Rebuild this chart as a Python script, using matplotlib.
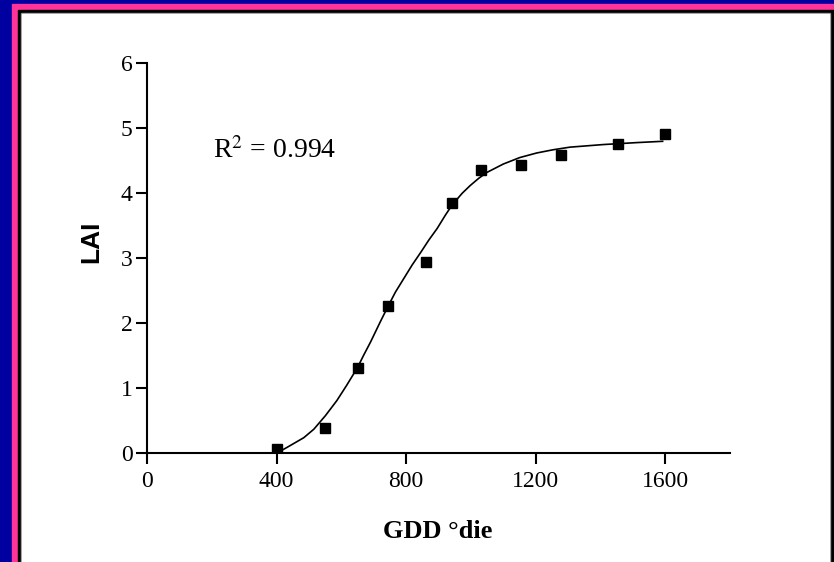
import matplotlib
matplotlib.use('Agg')
import matplotlib.pyplot as plt
from matplotlib.patches import Rectangle

# measured LAI values
gdd = [400, 551, 650, 743, 861, 942, 1031, 1155, 1279, 1453, 1599]
lai = [0.07, 0.39, 1.32, 2.27, 2.95, 3.85, 4.36, 4.43, 4.59, 4.76, 4.92]

# fitted curve
fit_gdd = [400, 432, 484, 515, 551, 586, 617, 650, 669, 690, 720, 743, 767,
           793, 819, 845, 870, 896, 922, 942, 973, 998, 1024, 1049, 1100,
           1151, 1203, 1254, 1306, 1409, 1512, 1592]
fit_lai = [0.0, 0.09, 0.24, 0.37, 0.58, 0.81, 1.05, 1.32, 1.51, 1.71, 2.02,
           2.25, 2.48, 2.69, 2.90, 3.09, 3.28, 3.46, 3.67, 3.82, 4.00, 4.12,
           4.23, 4.32, 4.45, 4.55, 4.62, 4.67, 4.71, 4.75, 4.78, 4.80]

xticks = [0, 400, 800, 1200, 1600]
yticks = [0, 1, 2, 3, 4, 5, 6]

W, H = 834, 562
fig = plt.figure(figsize=(W / 100, H / 100), dpi=100, facecolor='#0000a0')


def frame_rect(x0, y0, x1, y1, color):
    # pixel box, origin top-left
    fig.patches.append(Rectangle((x0 / W, 1 - y1 / H), (x1 - x0) / W, (y1 - y0) / H,
                                 transform=fig.transFigure, color=color, zorder=-10))


frame_rect(12, 4, W + 5, H + 5, '#ff3399')
frame_rect(18, 10, W + 5, H + 5, 'black')
frame_rect(21, 13, 830, H + 5, '#909090')
frame_rect(22, 14, 829, H + 5, 'white')

ax = fig.add_axes([147 / W, 1 - 453.3 / H, (730 - 147) / W, (453.3 - 63.3) / H])
ax.patch.set_alpha(0)

ax.plot(fit_gdd, fit_lai, color='black', lw=1.2, zorder=2)
ax.plot(gdd, lai, 's', color='black', ms=6.5, zorder=3)

ax.set_xlim(0, 1800)
ax.set_ylim(0, 6)
ax.set_xticks(xticks)
ax.set_yticks(yticks)

for s in ['top', 'right']:
    ax.spines[s].set_visible(False)
for s in ['left', 'bottom']:
    ax.spines[s].set_linewidth(1.5)
ax.tick_params(length=8, width=1.5, labelsize=17)
ax.tick_params(axis='y', pad=2.5)
ax.tick_params(axis='x', pad=5)
for lab in ax.get_xticklabels() + ax.get_yticklabels():
    lab.set_family('Liberation Serif')

plt.rcParams['mathtext.fontset'] = 'stix'
ax.text(213 / W, 1 - 158 / H, 'R$^2$ = 0.994', transform=fig.transFigure,
        family='Liberation Serif', fontsize=20, ha='left', va='baseline')

fig.text(438 / W, 1 - 531 / H, 'GDD °die', family='Liberation Serif',
         weight='bold', fontsize=19, ha='center', va='center')
fig.text(91 / W, 1 - 242 / H, 'LAI', family='Liberation Sans',
         weight='bold', fontsize=19, ha='center', va='center', rotation=90)

fig.savefig('out.png', dpi=100, facecolor=fig.get_facecolor())
